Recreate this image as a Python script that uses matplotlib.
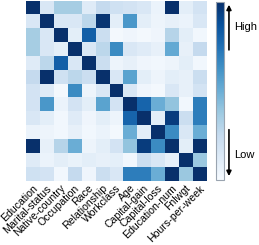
import numpy as np
import matplotlib.pyplot as plt
from matplotlib.colors import Normalize
from matplotlib.patches import FancyArrowPatch
from matplotlib.transforms import ScaledTranslation
import matplotlib.cm as cm

plt.rcParams['font.family'] = ['Liberation Sans', 'DejaVu Sans']

features = ['Education', 'Marital-status', 'Native-country', 'Occupation', 'Race',
            'Relationship', 'Workclass', 'Age', 'Capital-gain', 'Capital-loss',
            'Education-num', 'Fnlwgt', 'Hours-per-week']

# correlation strength (0 = low, 1 = high)
corr = [
    [1.00, 0.15, 0.35, 0.35, 0.12, 0.25, 0.20, 0.18, 0.15, 0.06, 1.00, 0.10, 0.18],
    [0.15, 1.00, 0.15, 0.15, 0.28, 0.98, 0.10, 0.60, 0.10, 0.05, 0.08, 0.06, 0.15],
    [0.35, 0.15, 1.00, 0.10, 0.82, 0.22, 0.02, 0.04, 0.02, 0.04, 0.30, 0.10, 0.03],
    [0.35, 0.15, 0.10, 1.00, 0.15, 0.28, 0.65, 0.15, 0.12, 0.08, 0.52, 0.08, 0.25],
    [0.12, 0.28, 0.82, 0.15, 1.00, 0.22, 0.05, 0.08, 0.04, 0.03, 0.05, 0.10, 0.03],
    [0.25, 1.00, 0.20, 0.28, 0.22, 1.00, 0.15, 0.55, 0.10, 0.05, 0.10, 0.08, 0.22],
    [0.18, 0.12, 0.02, 0.65, 0.05, 0.15, 1.00, 0.15, 0.04, 0.02, 0.15, 0.08, 0.18],
    [0.18, 0.60, 0.06, 0.18, 0.10, 0.55, 0.18, 1.00, 0.80, 0.50, 0.40, 0.03, 0.70],
    [0.15, 0.10, 0.03, 0.12, 0.04, 0.10, 0.05, 0.80, 1.00, 0.10, 0.95, 0.22, 0.70],
    [0.06, 0.05, 0.03, 0.08, 0.03, 0.06, 0.02, 0.50, 0.10, 1.00, 0.65, 0.15, 0.50],
    [1.00, 0.08, 0.30, 0.50, 0.05, 0.10, 0.18, 0.40, 0.95, 0.65, 1.00, 0.10, 1.00],
    [0.12, 0.06, 0.10, 0.07, 0.10, 0.08, 0.09, 0.03, 0.22, 0.15, 0.08, 1.00, 0.38],
    [0.20, 0.18, 0.03, 0.25, 0.04, 0.22, 0.15, 0.70, 0.70, 0.50, 1.00, 0.38, 1.00],
]

fig = plt.figure(figsize=(2.59, 2.45), dpi=100)
ax = fig.add_axes([0.100, 0.261, 0.695, 0.735])
ax.imshow(np.array(corr), cmap='Blues', vmin=0, vmax=1, aspect='auto',
          interpolation='nearest')
ax.set_xticks(range(len(features)))
ax.set_xticklabels(features, rotation=45, ha='right', va='top',
                   rotation_mode='anchor', fontsize=7.6)
shift = ScaledTranslation(0.025, 0, fig.dpi_scale_trans)
for lab in ax.get_xticklabels():
    lab.set_transform(lab.get_transform() + shift)
ax.set_yticks([])
ax.tick_params(axis='x', length=0, pad=1.5)
for s in ax.spines.values():
    s.set_visible(False)

# colorbar
cax = fig.add_axes([0.834, 0.265, 0.031, 0.727])
cb = fig.colorbar(cm.ScalarMappable(norm=Normalize(0, 1), cmap='Blues'), cax=cax)
cb.set_ticks([])
cb.outline.set_edgecolor('#9aa4b0')
cb.outline.set_linewidth(0.8)

# High / Low arrows
fig.patches.append(FancyArrowPatch(
    (0.884, 0.785), (0.884, 0.992), transform=fig.transFigure,
    arrowstyle='-|>', mutation_scale=7, color='black', lw=1.2))
fig.patches.append(FancyArrowPatch(
    (0.884, 0.482), (0.884, 0.270), transform=fig.transFigure,
    arrowstyle='-|>', mutation_scale=7, color='black', lw=1.2))
fig.text(0.905, 0.89, 'High', fontsize=8, va='center', ha='left')
fig.text(0.905, 0.368, 'Low', fontsize=8, va='center', ha='left')

fig.savefig('out.png', dpi=100)
